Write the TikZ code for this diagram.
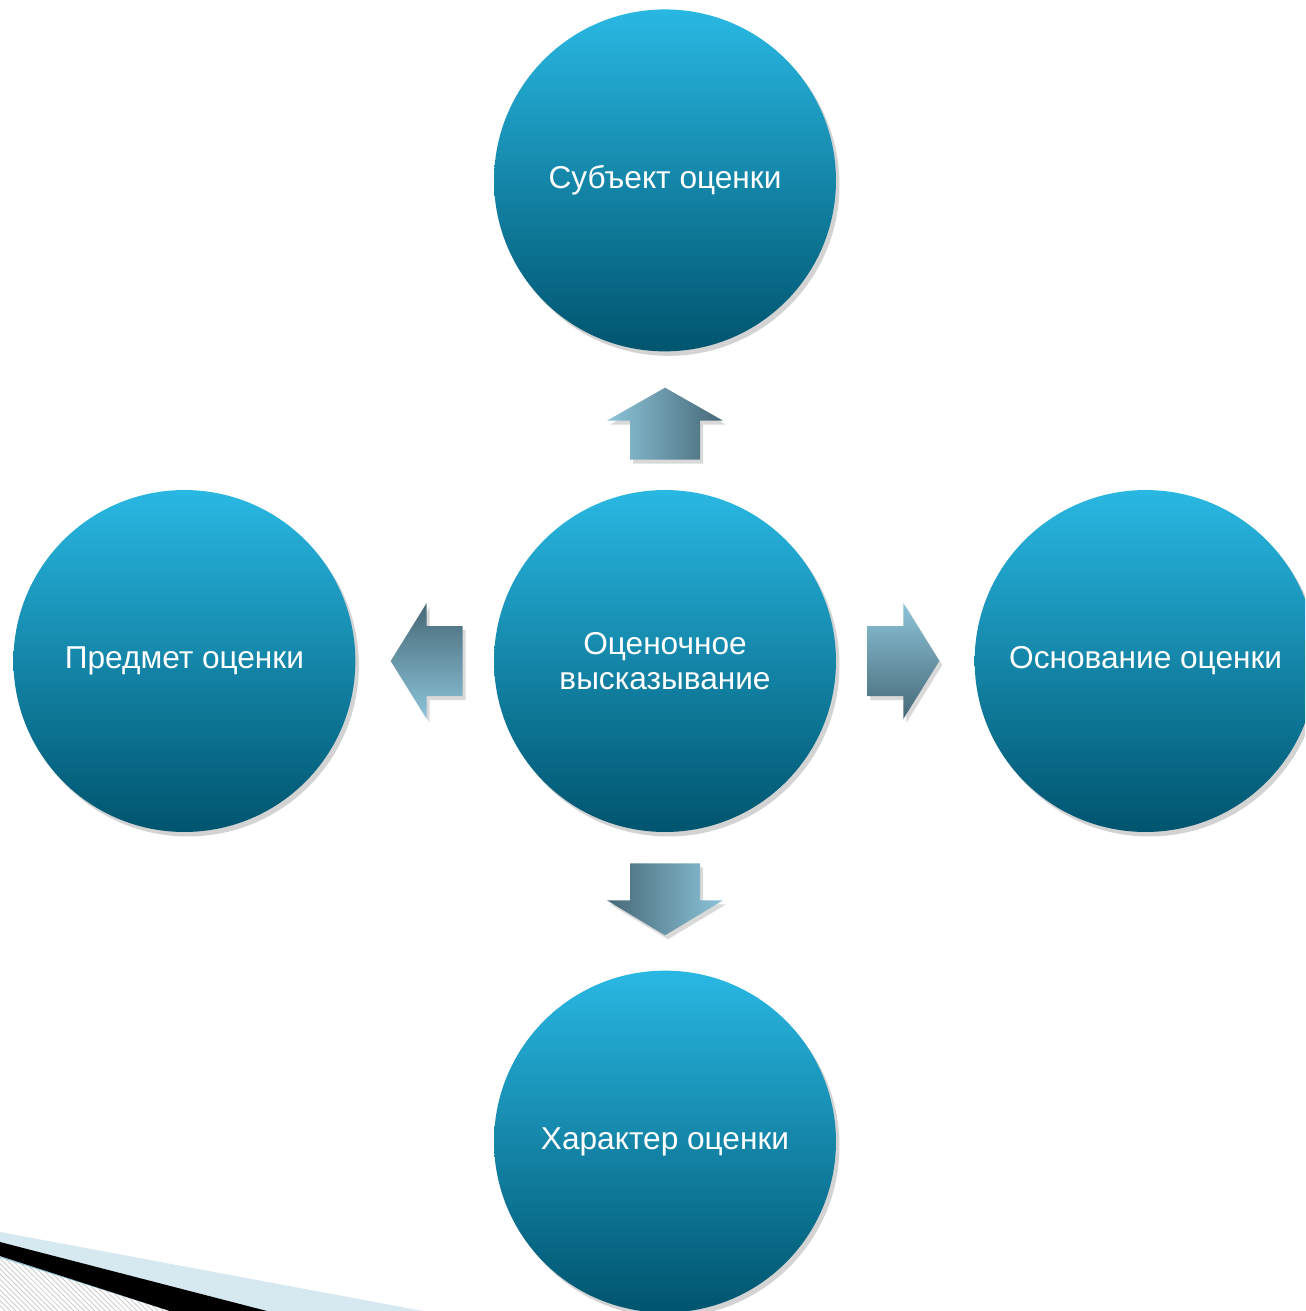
\documentclass[tikz,border=0pt]{standalone}
\usepackage{fontspec}
\setmainfont{Liberation Sans}
\usetikzlibrary{shadows,patterns,positioning}

\definecolor{ballTop}{RGB}{41,184,227}
\definecolor{ballBot}{RGB}{0,84,110}
\definecolor{arrLight}{RGB}{140,196,217}
\definecolor{arrDark}{RGB}{70,104,118}
\definecolor{bandBlue}{RGB}{214,232,240}

\tikzset{
  ball/.style={circle, minimum size=6.84cm, inner sep=0pt, align=center, text=white,
    font=\fontsize{18}{20}\selectfont, top color=ballTop, bottom color=ballBot,
    drop shadow={opacity=.35, shadow xshift=.07cm, shadow yshift=-.09cm}},
  blk/.style={drop shadow={opacity=.3, shadow xshift=.06cm, shadow yshift=-.08cm}}
}

\begin{document}
\begin{tikzpicture}[x=0.02cm,y=-0.02cm,node distance=2.76cm]
\useasboundingbox (0,0) rectangle (1305,1311);
\clip (0,0) rectangle (1305,1311);

% circles
\node[ball] (c) at (665,661) {Оценочное\\высказывание};
\node[ball] (subj) [above=of c] {Субъект оценки};
\node[ball] (pred) [left=of c] {Предмет оценки};
\node[ball] (osn) [right=of c] {Основание оценки};
\node[ball] (har) [below=of c] {Характер оценки};

% block arrows
\begin{scope}[shift={(c.north)}]
\shade[blk, left color=arrLight, right color=arrDark]
  (-35,-30) -- (-35,-69) -- (-58,-69) -- (0,-102) -- (58,-69) -- (35,-69) -- (35,-30) -- cycle;
\end{scope}
\begin{scope}[shift={(c.west)}]
\shade[blk, top color=arrDark, bottom color=arrLight]
  (-31,-35) -- (-67,-35) -- (-67,-58) -- (-103,0) -- (-67,58) -- (-67,35) -- (-31,35) -- cycle;
\end{scope}
\begin{scope}[shift={(c.east)}]
\shade[blk, top color=arrLight, bottom color=arrDark]
  (31,-35) -- (67,-35) -- (67,-58) -- (103,0) -- (67,58) -- (67,35) -- (31,35) -- cycle;
\end{scope}
\begin{scope}[shift={(c.south)}]
\shade[blk, left color=arrDark, right color=arrLight]
  (-35,31) -- (-35,68) -- (-58,68) -- (0,103) -- (58,68) -- (35,68) -- (35,31) -- cycle;
\end{scope}

% corner band
\fill[bandBlue] (0,1232) -- (423,1311) -- (0,1311) -- cycle;
\fill[white] (0,1256) -- (170,1311) -- (0,1311) -- cycle;
\fill[pattern=north west lines, pattern color=gray!45] (0,1256) -- (170,1311) -- (0,1311) -- cycle;
\draw[arrLight, line width=.6pt] (0,1257) -- (172,1311);
\fill[black] (0,1242) -- (267,1311) -- (170,1311) -- (0,1256) -- cycle;

\end{tikzpicture}
\end{document}
